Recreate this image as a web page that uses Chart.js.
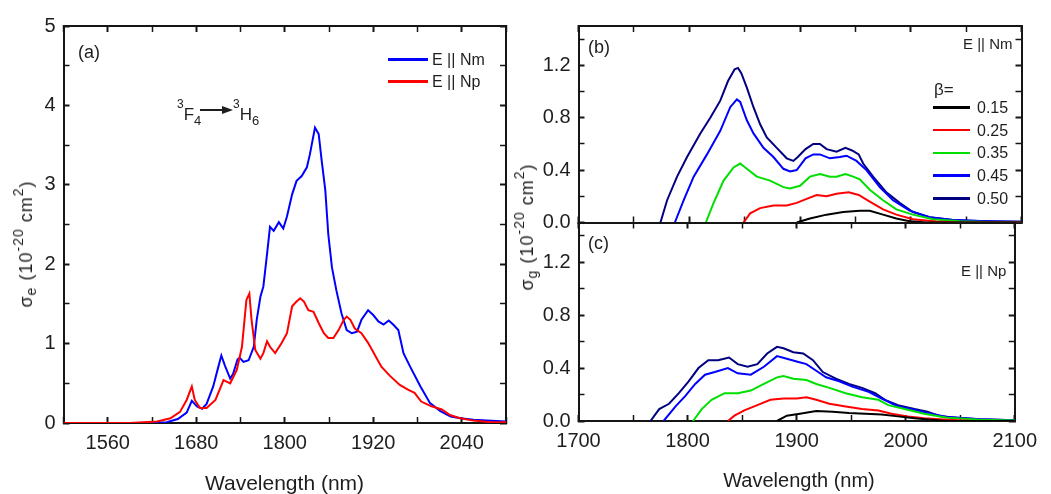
<!DOCTYPE html>
<html><head><meta charset="utf-8">
<script src="https://cdn.jsdelivr.net/npm/chart.js@4.4.1/dist/chart.umd.min.js"></script>
<style>
html,body{margin:0;padding:0;background:#fff;}
body{width:1051px;height:494px;position:relative;overflow:hidden;font-family:"Liberation Sans",Arial,sans-serif;color:#1e1e1e;}
canvas{position:absolute;top:0;}
.t{position:absolute;white-space:nowrap;line-height:1;}
.sp{font-size:0.78em;position:relative;top:-0.62em;}
.sb{font-size:0.78em;position:relative;top:0.3em;}
.ytl{position:absolute;white-space:nowrap;line-height:1;font-size:18px;letter-spacing:1px;transform:translate(-50%,-50%) rotate(-90deg);}
.lg{position:absolute;height:2.6px;}
</style></head><body>
<canvas id="cA" width="520" height="494" style="left:0"></canvas>
<canvas id="cB" width="531" height="494" style="left:520px"></canvas>
<canvas id="cC" width="531" height="494" style="left:520px"></canvas>
<div id="ov" style="position:absolute;left:0;top:0;width:0;height:0;"></div>
<script>
// ---------- Panel (a): emission cross-section ----------
const nmA_Nm = [1500,1600,1640,1655,1667,1674,1681,1688,1694,1703,1710,1714,1719,1726,1730,1736,1739,1744,1751,1758,1762,1767,1771,1776,1780,1785,1792,1798,1803,1810,1816,1823,1830,1834,1841,1846,1850,1855,1859,1864,1870,1877,1884,1891,1898,1904,1913,1920,1927,1934,1941,1947,1954,1961,1970,1984,1997,2011,2025,2038,2056,2074,2100];
const sigA_Nm = [0,0,0.01,0.05,0.13,0.28,0.21,0.18,0.24,0.46,0.71,0.85,0.72,0.56,0.62,0.80,0.82,0.77,0.79,0.96,1.30,1.59,1.72,2.13,2.47,2.42,2.53,2.45,2.60,2.88,3.05,3.11,3.22,3.38,3.72,3.64,3.31,2.93,2.38,1.96,1.67,1.38,1.17,1.13,1.15,1.30,1.42,1.36,1.28,1.24,1.29,1.24,1.17,0.88,0.71,0.46,0.25,0.15,0.08,0.06,0.04,0.03,0.02];
const nmA_Np = [1500,1590,1627,1645,1658,1667,1674,1678,1685,1694,1706,1717,1726,1735,1742,1748,1752,1755,1760,1767,1771,1776,1780,1787,1796,1803,1810,1816,1821,1826,1832,1839,1846,1853,1859,1866,1873,1880,1884,1889,1895,1904,1913,1922,1931,1943,1956,1967,1976,1985,1999,2013,2024,2038,2056,2079,2100];
const sigA_Np = [0,0,0.02,0.06,0.14,0.29,0.46,0.29,0.19,0.19,0.29,0.54,0.50,0.67,0.96,1.55,1.63,1.30,0.92,0.81,0.88,1.03,0.96,0.88,1.01,1.13,1.47,1.53,1.57,1.53,1.42,1.40,1.26,1.13,1.07,1.07,1.17,1.30,1.34,1.30,1.19,1.13,1.01,0.86,0.71,0.59,0.48,0.42,0.38,0.27,0.21,0.17,0.10,0.06,0.03,0.01,0.01];

// ---------- Panel (b): gain, E || Nm ----------
const nmB_015 = [1897,1909,1924,1939,1954,1963,1975,1987,1999,2014,2100];
const gB_015  = [0,0.03,0.06,0.08,0.09,0.09,0.06,0.03,0.01,0,0];
const nmB_025 = [1849,1855,1864,1876,1888,1897,1906,1915,1924,1933,1944,1953,1963,1975,1987,2002,2023,2044,2100];
const gB_025  = [0,0.07,0.11,0.13,0.13,0.15,0.18,0.21,0.20,0.22,0.23,0.21,0.16,0.10,0.06,0.025,0.008,0,0];
const nmB_035 = [1815,1822,1831,1840,1846,1852,1861,1873,1885,1891,1900,1909,1918,1927,1933,1941,1948,1954,1963,1975,1987,2002,2020,2044,2068,2100];
const gB_035  = [0,0.15,0.32,0.42,0.45,0.41,0.35,0.32,0.27,0.26,0.28,0.35,0.37,0.35,0.35,0.37,0.35,0.33,0.25,0.17,0.10,0.06,0.025,0.01,0.003,0];
const nmB_045 = [1787,1795,1804,1816,1828,1837,1843,1846,1852,1858,1867,1876,1885,1891,1897,1905,1912,1918,1927,1936,1942,1951,1960,1972,1984,1999,2017,2038,2068,2100];
const gB_045  = [0,0.17,0.35,0.52,0.70,0.88,0.94,0.92,0.78,0.68,0.57,0.50,0.41,0.39,0.40,0.49,0.52,0.52,0.49,0.50,0.51,0.47,0.40,0.27,0.17,0.09,0.04,0.02,0.01,0.005];
const nmB_050 = [1774,1780,1789,1798,1810,1819,1828,1835,1841,1844,1847,1852,1858,1864,1870,1879,1888,1894,1898,1905,1912,1918,1924,1933,1941,1947,1953,1957,1966,1978,1990,2002,2017,2038,2068,2100];
const gB_050  = [0,0.17,0.35,0.50,0.68,0.80,0.93,1.08,1.17,1.18,1.14,1.03,0.88,0.75,0.65,0.57,0.49,0.47,0.50,0.56,0.60,0.60,0.56,0.54,0.57,0.55,0.52,0.45,0.35,0.23,0.15,0.08,0.04,0.02,0.01,0.005];

// ---------- Panel (c): gain, E || Np ----------
const nmC_015 = [1882,1891,1903,1918,1933,1948,1963,1978,1993,2008,2023,2038,2100];
const gC_015  = [0,0.04,0.055,0.075,0.07,0.06,0.055,0.05,0.035,0.02,0.01,0,0];
const nmC_025 = [1837,1843,1852,1864,1876,1888,1900,1909,1918,1930,1945,1960,1975,1987,2002,2017,2038,2062,2100];
const gC_025  = [0,0.04,0.08,0.12,0.16,0.17,0.17,0.18,0.16,0.13,0.11,0.09,0.08,0.055,0.035,0.02,0.01,0,0];
const nmC_035 = [1805,1813,1822,1834,1846,1858,1870,1882,1888,1897,1909,1918,1930,1945,1960,1975,1984,1999,2017,2038,2068,2100];
const gC_035  = [0,0.09,0.16,0.21,0.21,0.23,0.28,0.33,0.34,0.32,0.31,0.28,0.25,0.21,0.18,0.16,0.12,0.09,0.055,0.025,0.01,0.003];
const nmC_045 = [1778,1789,1798,1807,1816,1825,1837,1846,1858,1870,1882,1891,1900,1909,1918,1927,1939,1951,1966,1978,1993,2008,2020,2038,2068,2100];
const gC_045  = [0,0.11,0.19,0.28,0.35,0.37,0.40,0.36,0.35,0.41,0.49,0.47,0.45,0.43,0.38,0.33,0.30,0.26,0.22,0.17,0.11,0.085,0.06,0.03,0.013,0.005];
const nmC_050 = [1766,1774,1783,1792,1801,1810,1819,1828,1838,1846,1855,1864,1873,1882,1888,1897,1906,1915,1924,1936,1948,1960,1972,1981,1993,2008,2020,2032,2047,2068,2100];
const gC_050  = [0,0.09,0.13,0.21,0.30,0.40,0.46,0.46,0.48,0.43,0.41,0.43,0.51,0.56,0.55,0.52,0.51,0.46,0.37,0.32,0.28,0.25,0.21,0.16,0.12,0.09,0.07,0.035,0.025,0.013,0.005];

// ---------- Ticks and labels ----------
const xTicksA  = [1500,1560,1620,1680,1740,1800,1860,1920,1980,2040,2100];
const xLabelsA = [1560,1680,1800,1920,2040];
const yTicksA  = [0,0.5,1,1.5,2,2.5,3,3.5,4,4.5,5];
const yLabelsA = [0,1,2,3,4,5];
const xTicksBC  = [1700,1750,1800,1850,1900,1950,2000,2050,2100];
const xLabelsBC = [1700,1800,1900,2000,2100];
const yTicksBC  = [0,0.2,0.4,0.6,0.8,1.0,1.2,1.4];
const yLabelsBC = [0,0.4,0.8,1.2];

const legendA = ['E || Nm','E || Np'];
const colorsA = ['#0000ff','#ff0000'];
const betas   = ['0.15','0.25','0.35','0.45','0.50'];
const colorsB = ['#000000','#ff0000','#00e000','#0000ff','#000080'];

const FONT = '"Liberation Sans", Arial, sans-serif';
const TXT = '#1e1e1e';
const AX = '#151515';
const TICK_LEN = -6;   // negative: tick marks point into the plot area
const pts = (xs, ys) => xs.map((x, i) => ({x: x, y: ys[i]}));
const isIn = (arr, v) => arr.some(q => Math.abs(q - v) < 1e-9);

function lineDs(label, xs, ys, color, order) {
  return {label: label, data: pts(xs, ys), borderColor: color, backgroundColor: color,
          borderWidth: 2, pointRadius: 0, tension: 0, fill: false, order: order,
          xAxisID: 'x', yAxisID: 'y'};
}

// one axis (main or mirrored) with inward tick marks and a solid border
function axis(position, min, max, tickVals, labelVals, opts) {
  const horizontal = (position === 'top' || position === 'bottom');
  return {
    type: 'linear', position: position, min: min, max: max, bounds: 'data',
    afterBuildTicks: s => { s.ticks = tickVals.map(v => ({value: v})); },
    ticks: {display: opts.showLabels, autoSkip: false, maxRotation: 0, minRotation: 0,
            padding: 8 - TICK_LEN, font: {size: 20, family: FONT}, color: TXT,
            callback: v => isIn(labelVals, v) ? opts.fmt(v) : ''},
    grid: {display: true, drawOnChartArea: false, drawTicks: true, tickLength: TICK_LEN,
           tickColor: AX, tickWidth: c => (c.tick && isIn(labelVals, c.tick.value)) ? 2 : 1.5},
    border: {display: true, width: 2, color: AX},
    afterFit: s => { if (horizontal) s.height = opts.size; else s.width = opts.size; }
  };
}

function buildChart(id, datasets, cfg) {
  return new Chart(document.getElementById(id), {
    type: 'line',
    data: {datasets: datasets},
    options: {
      responsive: false, animation: false, events: [],
      layout: {padding: cfg.padding},
      plugins: {legend: {display: false}, tooltip: {enabled: false}},
      scales: {
        x:  axis('bottom', cfg.xMin, cfg.xMax, cfg.xTicks, cfg.xLabels, {showLabels: cfg.showX, size: cfg.xH, fmt: v => String(v)}),
        y:  axis('left',   cfg.yMin, cfg.yMax, cfg.yTicks, cfg.yLabels, {showLabels: true, size: cfg.yW, fmt: cfg.fmtY}),
        x2: axis('top',    cfg.xMin, cfg.xMax, cfg.xTicks, cfg.xLabels, {showLabels: false, size: 0, fmt: v => ''}),
        y2: axis('right',  cfg.yMin, cfg.yMax, cfg.yTicks, cfg.yLabels, {showLabels: false, size: 0, fmt: v => ''})
      }
    }
  });
}

buildChart('cA', [
  lineDs(legendA[1], nmA_Np, sigA_Np, colorsA[1], 0),
  lineDs(legendA[0], nmA_Nm, sigA_Nm, colorsA[0], 1)
], {padding: {left: 0, top: 25, right: 13.5, bottom: 0}, xMin: 1500, xMax: 2100, yMin: 0, yMax: 5,
    xTicks: xTicksA, xLabels: xLabelsA, yTicks: yTicksA, yLabels: yLabelsA, showX: true,
    xH: 71, yW: 63.5, fmtY: v => String(v)});

const gSetsB = [[nmB_015, gB_015],[nmB_025, gB_025],[nmB_035, gB_035],[nmB_045, gB_045],[nmB_050, gB_050]];
const gSetsC = [[nmC_015, gC_015],[nmC_025, gC_025],[nmC_035, gC_035],[nmC_045, gC_045],[nmC_050, gC_050]];

buildChart('cB', gSetsB.map((s, i) => lineDs(betas[i], s[0], s[1], colorsB[i], i)),
  {padding: {left: 0, top: 24, right: 29.5, bottom: 271.5}, xMin: 1700, xMax: 2100, yMin: 0, yMax: 1.5,
   xTicks: xTicksBC, xLabels: xLabelsBC, yTicks: yTicksBC, yLabels: yLabelsBC, showX: false,
   xH: 0, yW: 58.5, fmtY: v => v.toFixed(1)});

buildChart('cC', gSetsC.map((s, i) => lineDs(betas[i], s[0], s[1], colorsB[i], i)),
  {padding: {left: 0, top: 222.5, right: 29.5, bottom: 0}, xMin: 1700, xMax: 2100, yMin: 0, yMax: 1.5,
   xTicks: xTicksBC, xLabels: xLabelsBC, yTicks: yTicksBC, yLabels: yLabelsBC, showX: true,
   xH: 73, yW: 58.5, fmtY: v => v.toFixed(1)});

// ---------- Text overlays & legends ----------
const ov = document.getElementById('ov');
function addText(html, left, top, size, extra) {
  const d = document.createElement('div');
  d.className = 't';
  d.innerHTML = html;
  d.style.left = left + 'px'; d.style.top = top + 'px'; d.style.fontSize = size + 'px';
  if (extra) Object.assign(d.style, extra);
  ov.appendChild(d);
  return d;
}
function addLine(left, y, w, color) {
  const d = document.createElement('div');
  d.className = 'lg';
  d.style.left = left + 'px'; d.style.top = (y - 1.3) + 'px'; d.style.width = w + 'px'; d.style.background = color;
  ov.appendChild(d);
}

addText('(a)', 78, 43, 18);
addText('(b)', 588, 38, 18);
addText('(c)', 588, 234, 18);

legendA.forEach((t, i) => {
  const y = 59.3 + i * 22.4;
  addLine(388, y, 40, colorsA[i]);
  addText(t, 432, y - 7.7, 16);
});

addText('<span style="position:relative;top:-12px;font-size:12px">3</span>F<span style="position:relative;top:5px;font-size:13px">4</span>', 177, 105.6, 17);
(function(){
  const l = document.createElement('div');
  Object.assign(l.style, {position:'absolute', left:'200px', top:'109.2px', width:'24px', height:'1.6px', background:'#1e1e1e'});
  ov.appendChild(l);
  const h = document.createElement('div');
  Object.assign(h.style, {position:'absolute', left:'222px', top:'105.5px', width:'0', height:'0',
    borderLeft:'11px solid #1e1e1e', borderTop:'4.5px solid transparent', borderBottom:'4.5px solid transparent'});
  ov.appendChild(h);
})();
addText('<span style="position:relative;top:-12px;font-size:12px">3</span>H<span style="position:relative;top:5px;font-size:13px">6</span>', 233, 105.6, 17);

addText('E || Nm', 963, 36, 15);
addText('E || Np', 961, 262.5, 15);
addText('&beta;=', 934, 80.5, 17);
betas.forEach((b, i) => {
  const y = 107.5 + i * 22.7;
  addLine(933, y, 37, colorsB[i]);
  addText(b, 977, y - 7.7, 16);
});

addText('Wavelength (nm)', 284.5, 472, 21, {transform: 'translateX(-50%)'});
addText('Wavelength (nm)', 799, 469.5, 20, {transform: 'translateX(-50%)'});
function yTitle(sub, cx, cy) {
  const d = document.createElement('div');
  d.className = 'ytl';
  d.innerHTML = '&sigma;<span class="sb">' + sub + '</span> (10<span class="sp">-20</span> cm<span class="sp">2</span>)';
  d.style.left = cx + 'px'; d.style.top = cy + 'px';
  ov.appendChild(d);
}
yTitle('e', 26, 243.5);
yTitle('g', 527, 226.5);
</script>
</body></html>
